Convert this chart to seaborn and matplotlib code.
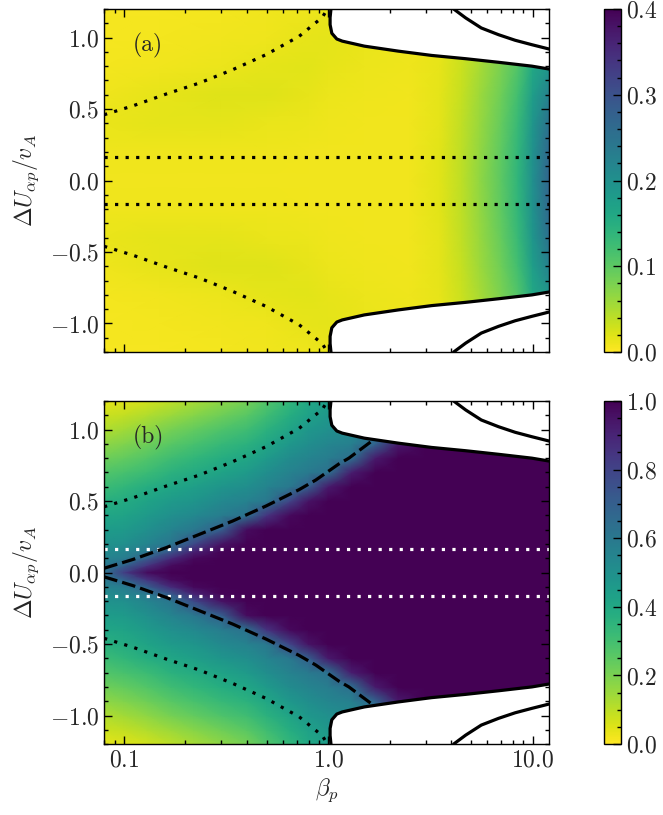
import numpy as np
import matplotlib
matplotlib.use("Agg")
import matplotlib.pyplot as plt
import seaborn as sns
from matplotlib.ticker import MultipleLocator, NullFormatter, LogLocator

# ---- data ----
beta_lim = (0.08, 12.0)
u_lim = (-1.2, 1.2)

# panel (a): growth field, rows = U (>= 0, mirrored below), cols = beta
beta_a = [0.08, 0.15, 0.3, 0.5, 0.8, 1.0, 1.5, 2.5, 3.5, 4.5, 5.5, 7.0, 8.5, 10.0, 12.0]
u_a = [0.0, 0.2, 0.4, 0.6, 0.8, 1.0, 1.2]
field_a = [
    [0.008, 0.008, 0.008, 0.008, 0.008, 0.008, 0.008, 0.008, 0.018, 0.040, 0.066, 0.100, 0.140, 0.200, 0.270],
    [0.010, 0.010, 0.010, 0.010, 0.009, 0.008, 0.008, 0.008, 0.018, 0.040, 0.065, 0.099, 0.138, 0.198, 0.265],
    [0.014, 0.016, 0.017, 0.014, 0.011, 0.010, 0.009, 0.008, 0.017, 0.038, 0.062, 0.095, 0.132, 0.190, 0.250],
    [0.010, 0.015, 0.019, 0.019, 0.015, 0.012, 0.010, 0.009, 0.016, 0.035, 0.058, 0.088, 0.122, 0.178, 0.225],
    [0.007, 0.009, 0.012, 0.016, 0.018, 0.015, 0.012, 0.010, 0.015, 0.032, 0.052, 0.080, 0.110, 0.160, 0.190],
    [0.006, 0.007, 0.008, 0.010, 0.015, 0.016, 0.014, 0.010, 0.014, 0.030, 0.050, 0.075, 0.100, 0.150, 0.180],
    [0.005, 0.006, 0.007, 0.008, 0.010, 0.014, 0.014, 0.010, 0.014, 0.030, 0.050, 0.075, 0.100, 0.150, 0.180],
]

# panel (b): fraction field
beta_b = [0.08, 0.1, 0.13, 0.17, 0.22, 0.3, 0.4, 0.5, 0.65, 0.8, 1.0, 1.3, 1.7, 2.2, 3.0, 12.0]
u_b = [0.0, 0.05, 0.1, 0.15, 0.2, 0.3, 0.4, 0.5, 0.6, 0.7, 0.8, 0.9, 1.0, 1.1, 1.2]
field_b = [
    [0.62, 0.82, 0.97, 1.00, 1.00, 1.00, 1.00, 1.00, 1.00, 1.00, 1.00, 1.00, 1.00, 1.00, 1.00, 1.00],
    [0.60, 0.68, 0.85, 0.97, 1.00, 1.00, 1.00, 1.00, 1.00, 1.00, 1.00, 1.00, 1.00, 1.00, 1.00, 1.00],
    [0.55, 0.58, 0.70, 0.88, 0.98, 1.00, 1.00, 1.00, 1.00, 1.00, 1.00, 1.00, 1.00, 1.00, 1.00, 1.00],
    [0.52, 0.54, 0.60, 0.72, 0.90, 0.99, 1.00, 1.00, 1.00, 1.00, 1.00, 1.00, 1.00, 1.00, 1.00, 1.00],
    [0.49, 0.50, 0.55, 0.61, 0.78, 0.95, 1.00, 1.00, 1.00, 1.00, 1.00, 1.00, 1.00, 1.00, 1.00, 1.00],
    [0.45, 0.46, 0.50, 0.55, 0.60, 0.70, 0.97, 1.00, 1.00, 1.00, 1.00, 1.00, 1.00, 1.00, 1.00, 1.00],
    [0.41, 0.42, 0.46, 0.50, 0.53, 0.58, 0.63, 0.85, 0.98, 1.00, 1.00, 1.00, 1.00, 1.00, 1.00, 1.00],
    [0.37, 0.39, 0.42, 0.46, 0.48, 0.53, 0.56, 0.60, 0.80, 0.95, 1.00, 1.00, 1.00, 1.00, 1.00, 1.00],
    [0.32, 0.34, 0.38, 0.41, 0.44, 0.48, 0.51, 0.55, 0.60, 0.70, 0.93, 1.00, 1.00, 1.00, 1.00, 1.00],
    [0.27, 0.29, 0.32, 0.36, 0.39, 0.42, 0.46, 0.51, 0.56, 0.59, 0.63, 0.92, 1.00, 1.00, 1.00, 1.00],
    [0.22, 0.24, 0.27, 0.31, 0.34, 0.38, 0.41, 0.46, 0.52, 0.55, 0.58, 0.64, 0.93, 1.00, 1.00, 1.00],
    [0.17, 0.19, 0.22, 0.26, 0.29, 0.33, 0.36, 0.41, 0.47, 0.51, 0.54, 0.57, 0.68, 0.93, 1.00, 1.00],
    [0.12, 0.14, 0.17, 0.21, 0.24, 0.28, 0.31, 0.36, 0.42, 0.47, 0.50, 0.53, 0.60, 0.85, 1.00, 1.00],
    [0.08, 0.09, 0.12, 0.15, 0.18, 0.22, 0.26, 0.31, 0.38, 0.43, 0.47, 0.50, 0.55, 0.85, 1.00, 1.00],
    [0.04, 0.05, 0.07, 0.10, 0.13, 0.17, 0.21, 0.27, 0.34, 0.40, 0.45, 0.48, 0.50, 0.85, 1.00, 1.00],
]

# stability boundaries (upper half, mirrored for U < 0)
inner_beta = [1.03, 1.02, 1.02, 1.04, 1.10, 1.17, 1.50, 2.20, 3.20, 4.70, 6.80, 9.90, 12.0]
inner_u = [1.20, 1.14, 1.09, 1.03, 0.99, 0.975, 0.94, 0.905, 0.875, 0.852, 0.827, 0.80, 0.78]
outer_beta = [4.10, 4.70, 5.60, 6.80, 8.20, 9.90, 12.0]
outer_u = [1.20, 1.137, 1.067, 1.02, 0.981, 0.95, 0.92]

# dotted curve (both panels) and dashed curve (panel b)
dot_beta = [0.08, 0.111, 0.161, 0.234, 0.34, 0.495, 0.72, 0.935, 0.99]
dot_u = [0.46, 0.523, 0.605, 0.682, 0.775, 0.88, 1.009, 1.142, 1.20]
dash_beta = [0.08, 0.111, 0.161, 0.234, 0.34, 0.495, 0.72, 0.868, 1.127, 1.26, 1.64]
dash_u = [0.03, 0.092, 0.174, 0.267, 0.36, 0.465, 0.58, 0.647, 0.76, 0.80, 0.922]

hline_u = [0.167, -0.167]

xtick_vals = [0.1, 1.0, 10.0]
xtick_labels = [r"$0.1$", r"$1.0$", r"$10.0$"]
ytick_vals = [-1.0, -0.5, 0.0, 0.5, 1.0]
ytick_labels = [r"$-1.0$", r"$-0.5$", r"$0.0$", r"$0.5$", r"$1.0$"]
cticks_a = [0.0, 0.1, 0.2, 0.3, 0.4]
clabels_a = [r"$0.0$", r"$0.1$", r"$0.2$", r"$0.3$", r"$0.4$"]
cticks_b = [0.0, 0.2, 0.4, 0.6, 0.8, 1.0]
clabels_b = [r"$0.0$", r"$0.2$", r"$0.4$", r"$0.6$", r"$0.8$", r"$1.0$"]

# ---- style ----
sns.set_theme(style="ticks")
plt.rcParams.update({
    "font.family": "serif",
    "font.serif": ["cmr10", "DejaVu Serif"],
    "mathtext.fontset": "cm",
    "axes.formatter.use_mathtext": True,
    "axes.axisbelow": False,
    "font.size": 17,
    "axes.linewidth": 1.0,
    "axes.edgecolor": "black",
})

FS = 17
dots = (0, (1, 2.3))
dashes = (0, (4.3, 1.6))


def mirror(u_half, vals_half):
    u_half = np.asarray(u_half)
    vals = np.asarray(vals_half)
    u = np.r_[-u_half[:0:-1], u_half]
    z = np.vstack([vals[:0:-1], vals])
    return u, z


def panel(ax, cax, beta, u_half, vals_half, vmax, cticks, clabels, cminor,
          hcolor, tag, show_x):
    ax.set_xscale("log")
    ax.set_axisbelow(False)
    u, z = mirror(u_half, vals_half)
    B, U = np.meshgrid(beta, u)
    mesh = ax.pcolormesh(B, U, z, cmap="viridis_r", vmin=0, vmax=vmax,
                         shading="gouraud", rasterized=True)

    # unstable region left blank
    for s in (1, -1):
        ax.fill_betweenx(s * np.array(inner_u), inner_beta, beta_lim[1] * 1.5,
                         color="white", lw=0, zorder=2)
        sns.lineplot(x=inner_beta, y=s * np.array(inner_u), ax=ax, color="black",
                     lw=2.3, sort=False, estimator=None, zorder=4)
        sns.lineplot(x=outer_beta, y=s * np.array(outer_u), ax=ax, color="black",
                     lw=2.3, sort=False, estimator=None, zorder=4)
        sns.lineplot(x=dot_beta, y=s * np.array(dot_u), ax=ax, color="black",
                     lw=2.3, linestyle=dots, sort=False, estimator=None, zorder=3)

    for h in hline_u:
        ax.axhline(h, color=hcolor, lw=2.3, linestyle=dots, zorder=3)

    ax.set_xlim(*beta_lim)
    ax.set_ylim(*u_lim)
    ax.set_xticks(xtick_vals)
    ax.set_xticklabels(xtick_labels if show_x else [])
    ax.xaxis.set_minor_locator(LogLocator(base=10, subs=np.arange(2, 10)))
    ax.xaxis.set_minor_formatter(NullFormatter())
    ax.set_yticks(ytick_vals)
    ax.set_yticklabels(ytick_labels)
    ax.yaxis.set_minor_locator(MultipleLocator(0.1))
    ax.tick_params(which="both", direction="in", top=True, right=True,
                   bottom=True, left=True, labelsize=FS, width=1.0,
                   color="black")
    ax.tick_params(which="major", length=6)
    ax.tick_params(which="minor", length=3.2)
    ax.set_ylabel(r"$\Delta U_{\alpha p}/v_A$", fontsize=FS, labelpad=6)
    ax.set_xlabel(r"$\beta_p$" if show_x else "", fontsize=FS)
    ax.text(0.065, 0.895, tag, transform=ax.transAxes, fontsize=FS,
            va="center", ha="left", zorder=5)
    for sp in ax.spines.values():
        sp.set_zorder(6)

    cb = fig.colorbar(mesh, cax=cax)
    cax.set_axisbelow(False)
    cb.set_ticks(cticks, labels=clabels)
    cb.ax.yaxis.set_minor_locator(MultipleLocator(cminor))
    cb.ax.tick_params(which="both", direction="in", right=True, left=False,
                      labelsize=FS, width=1.0, color="black")
    cb.ax.tick_params(which="major", length=6)
    cb.ax.tick_params(which="minor", length=3.2)
    cb.outline.set_linewidth(1.0)
    cb.outline.set_edgecolor("black")
    return ax


fig = plt.figure(figsize=(6.63, 8.15), dpi=100)
ax_a = fig.add_axes([0.157, 0.568, 0.671, 0.421])
ax_b = fig.add_axes([0.157, 0.087, 0.671, 0.421])
cax_a = fig.add_axes([0.911, 0.568, 0.0256, 0.421])
cax_b = fig.add_axes([0.911, 0.087, 0.0256, 0.421])

panel(ax_a, cax_a, beta_a, u_a, field_a, 0.4, cticks_a, clabels_a, 0.02,
      "black", "(a)", False)
panel(ax_b, cax_b, beta_b, u_b, field_b, 1.0, cticks_b, clabels_b, 0.05,
      "white", "(b)", True)

# dashed curves only in panel (b)
for s in (1, -1):
    sns.lineplot(x=dash_beta, y=s * np.array(dash_u), ax=ax_b, color="black",
                 lw=2.3, linestyle=dashes, sort=False, estimator=None, zorder=3)
ax_b.set_xlim(*beta_lim)
ax_b.set_ylim(*u_lim)

fig.savefig("out.png", dpi=100)
